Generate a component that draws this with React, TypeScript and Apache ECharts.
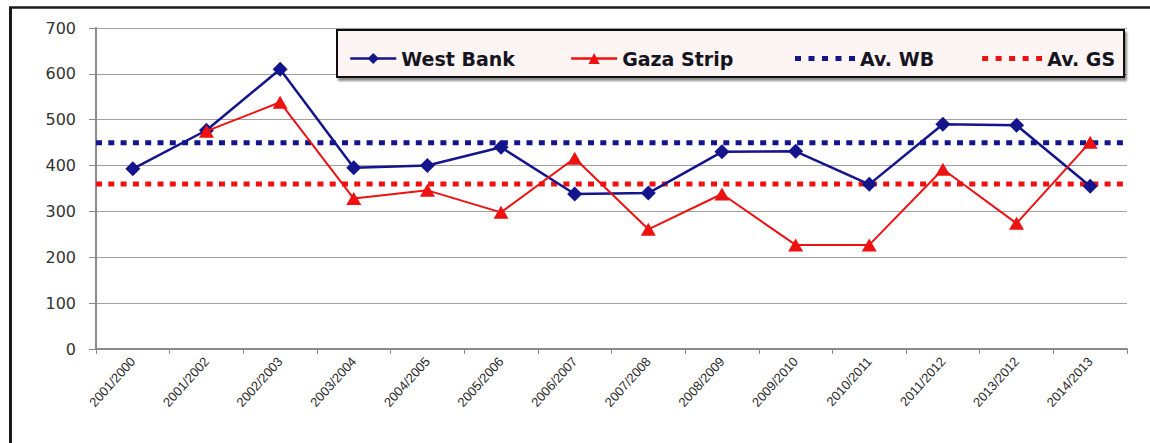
import React, { useEffect, useRef } from "react";
import * as echarts from "echarts";

const categories = [
  "2001/2000", "2001/2002", "2002/2003", "2003/2004", "2004/2005", "2005/2006", "2006/2007",
  "2007/2008", "2008/2009", "2009/2010", "2010/2011", "2011/2012", "2013/2012", "2014/2013",
];
const westBank = [393, 477, 610, 395, 400, 440, 338, 340, 430, 431, 359, 490, 488, 355];
const gazaStrip = [null, 475, 538, 328, 346, 298, 416, 261, 338, 227, 227, 392, 274, 451];
const avWB = [450, 450, 450, 450, 450, 450, 450, 450, 450, 450, 450, 450, 450, 450];
const avGS = [360, 360, 360, 360, 360, 360, 360, 360, 360, 360, 360, 360, 360, 360];
const yTicks = { min: 0, max: 700, interval: 100 };

const NAVY = "#14148c";
const RED = "#ee1111";
const DOTS_ICON = "path://M0,0h6v5h-6z M13.5,0h6v5h-6z M27,0h6v5h-6z M40.5,0h6v5h-6z M54,0h6v5h-6z";

export default function App() {
  const ref = useRef<HTMLDivElement>(null);
  useEffect(() => {
    const chart = echarts.init(ref.current!, undefined, { renderer: "svg" });
    const legendText = {
      fontFamily: "DejaVu Sans",
      fontWeight: "bold" as const,
      fontSize: 19,
      color: "#151520",
    };
    chart.setOption({
      animation: false,
      backgroundColor: "#ffffff",
      grid: { left: 96, right: 23, top: 28, bottom: 94, containLabel: false },
      legend: [
        {
          data: ["West Bank", "Gaza Strip"],
          left: 344,
          top: 44,
          itemWidth: 46,
          itemHeight: 14,
          itemGap: 55,
          lineStyle: { width: 2.5 },
          textStyle: legendText,
        },
        {
          data: [
            { name: "Av. WB", icon: DOTS_ICON },
            { name: "Av. GS", icon: DOTS_ICON },
          ],
          left: 790,
          top: 44,
          itemWidth: 60,
          itemHeight: 5,
          itemGap: 48,
          textStyle: legendText,
        },
      ],
      graphic: [
        {
          type: "rect",
          z: 3,
          shape: { x: 337, y: 30, width: 787, height: 47 },
          style: {
            fill: "#fdf4f4",
            stroke: "#111111",
            lineWidth: 2,
            shadowColor: "rgba(0,0,0,0.45)",
            shadowBlur: 2,
            shadowOffsetX: 2,
            shadowOffsetY: 3,
          },
        },
        {
          type: "line",
          z: 10,
          shape: { x1: 10.5, y1: 7, x2: 10.5, y2: 443 },
          style: { stroke: "#1a1a1a", lineWidth: 3 },
        },
        {
          type: "line",
          z: 10,
          shape: { x1: 9, y1: 7.5, x2: 1150, y2: 7.5 },
          style: { stroke: "#1a1a1a", lineWidth: 2.5 },
        },
      ],
      xAxis: [
        {
          type: "category",
          data: categories,
          boundaryGap: true,
          axisLine: { lineStyle: { color: "#8a8a8a", width: 2 } },
          axisTick: { show: true, length: 5, lineStyle: { color: "#8a8a8a", width: 1 } },
          axisLabel: {
            rotate: 48,
            interval: 0,
            margin: 10,
            fontFamily: "Liberation Sans",
            fontSize: 13,
            color: "#2a2a2a",
          },
          splitLine: { show: false },
        },
        {
          type: "category",
          data: categories,
          boundaryGap: false,
          show: false,
          position: "bottom",
        },
      ],
      yAxis: {
        type: "value",
        min: yTicks.min,
        max: yTicks.max,
        interval: yTicks.interval,
        axisLine: { show: true, lineStyle: { color: "#8a8a8a", width: 2 } },
        axisTick: { show: true, length: 7, lineStyle: { color: "#8a8a8a", width: 1 } },
        axisLabel: {
          margin: 20,
          fontFamily: "DejaVu Sans",
          fontSize: 16,
          color: "#333333",
        },
        splitLine: { show: true, lineStyle: { color: "#a0a0a0", width: 1 } },
      },
      series: [
        {
          name: "West Bank",
          type: "line",
          data: westBank,
          symbol: "diamond",
          symbolSize: 15,
          z: 5,
          itemStyle: { color: NAVY },
          lineStyle: { color: NAVY, width: 2.5 },
        },
        {
          name: "Gaza Strip",
          type: "line",
          data: gazaStrip,
          symbol: "triangle",
          symbolSize: [15, 13],
          z: 6,
          connectNulls: false,
          itemStyle: { color: RED },
          lineStyle: { color: RED, width: 2 },
        },
        {
          name: "Av. WB",
          type: "line",
          xAxisIndex: 1,
          data: avWB,
          symbol: "none",
          z: 4,
          itemStyle: { color: NAVY },
          lineStyle: { color: NAVY, width: 5, type: [6, 6.3], cap: "butt" },
        },
        {
          name: "Av. GS",
          type: "line",
          xAxisIndex: 1,
          data: avGS,
          symbol: "none",
          z: 4,
          itemStyle: { color: RED },
          lineStyle: { color: RED, width: 5, type: [6, 6.3], cap: "butt" },
        },
      ],
    });
    return () => chart.dispose();
  }, []);
  return (
    <div
      ref={ref}
      style={{ position: "fixed", left: 0, top: 0, width: 1150, height: 443 }}
    />
  );
}
